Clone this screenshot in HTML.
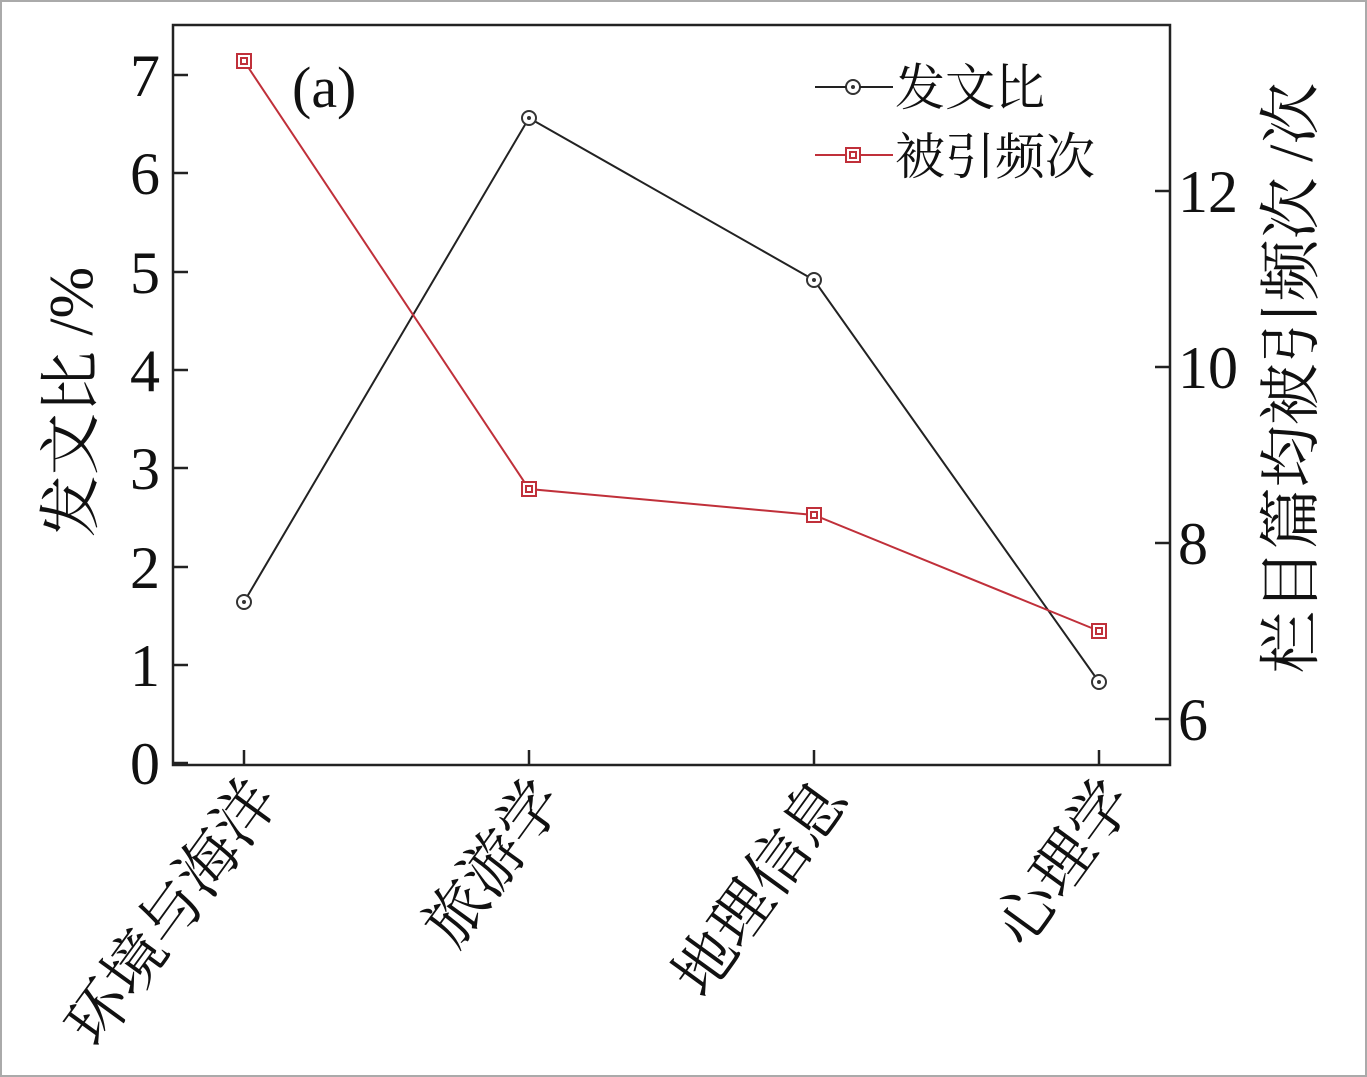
<!DOCTYPE html>
<html><head><meta charset="utf-8"><style>body{margin:0;background:#fff}svg{display:block}</style></head><body>
<svg width="1367" height="1077" xmlns="http://www.w3.org/2000/svg" font-family="Liberation Serif, Noto Serif CJK SC, serif">
<rect x="1" y="1" width="1365" height="1075" fill="#fff" stroke="#aaa" stroke-width="2"/>
<rect x="173" y="25" width="997" height="740" fill="none" stroke="#222" stroke-width="2.5"/>
<g stroke="#222" stroke-width="2.5">
<line x1="173" y1="763" x2="188" y2="763"/><line x1="173" y1="665" x2="188" y2="665"/><line x1="173" y1="567" x2="188" y2="567"/><line x1="173" y1="468" x2="188" y2="468"/><line x1="173" y1="370" x2="188" y2="370"/><line x1="173" y1="272" x2="188" y2="272"/><line x1="173" y1="173" x2="188" y2="173"/><line x1="173" y1="75" x2="188" y2="75"/>
<line x1="1170" y1="191" x2="1155" y2="191"/><line x1="1170" y1="367" x2="1155" y2="367"/><line x1="1170" y1="543" x2="1155" y2="543"/><line x1="1170" y1="719" x2="1155" y2="719"/>
<line x1="244" y1="765" x2="244" y2="750"/><line x1="529" y1="765" x2="529" y2="750"/><line x1="814" y1="765" x2="814" y2="750"/><line x1="1099" y1="765" x2="1099" y2="750"/>
</g>
<g font-size="60" fill="#111" text-anchor="end">
<text x="160" y="784">0</text><text x="160" y="686">1</text><text x="160" y="588">2</text><text x="160" y="489">3</text><text x="160" y="391">4</text><text x="160" y="293">5</text><text x="160" y="194">6</text><text x="160" y="96">7</text>
</g>
<g font-size="60" fill="#111">
<text x="1178" y="212">12</text><text x="1178" y="388">10</text><text x="1178" y="564">8</text><text x="1178" y="740">6</text>
</g>
<text x="292" y="107" font-size="58" fill="#111">(a)</text>
<polyline points="244,602 529,118 814,280 1099,682" fill="none" stroke="#222" stroke-width="2"/>
<polyline points="244,61 529,489 814,515 1099,631" fill="none" stroke="#c0303a" stroke-width="2"/>
<g fill="#fff" stroke="#333" stroke-width="2">
<circle cx="244" cy="602" r="7"/><circle cx="529" cy="118" r="7"/><circle cx="814" cy="280" r="7"/><circle cx="1099" cy="682" r="7"/><circle cx="853" cy="87" r="7"/>
</g>
<g fill="#333"><circle cx="244" cy="602" r="2"/><circle cx="529" cy="118" r="2"/><circle cx="814" cy="280" r="2"/><circle cx="1099" cy="682" r="2"/><circle cx="853" cy="87" r="2"/></g>
<g fill="#fff" stroke="#c0303a" stroke-width="2">
<rect x="237" y="54" width="14" height="14"/><rect x="522" y="482" width="14" height="14"/><rect x="807" y="508" width="14" height="14"/><rect x="1092" y="624" width="14" height="14"/><rect x="846" y="148" width="14" height="14"/>
<rect x="241" y="58" width="6" height="6"/><rect x="526" y="486" width="6" height="6"/><rect x="811" y="512" width="6" height="6"/><rect x="1096" y="628" width="6" height="6"/><rect x="850" y="152" width="6" height="6"/>
</g>
<line x1="815" y1="87" x2="846" y2="87" stroke="#222" stroke-width="2"/><line x1="860" y1="87" x2="893" y2="87" stroke="#222" stroke-width="2"/>
<line x1="815" y1="155" x2="846" y2="155" stroke="#c0303a" stroke-width="2"/><line x1="860" y1="155" x2="893" y2="155" stroke="#c0303a" stroke-width="2"/>
<g font-size="50" fill="#111" font-family="Noto Serif CJK SC, serif">
<text x="895" y="105">发文比</text><text x="895" y="174">被引频次</text>
</g>
<g font-size="62" fill="#111" font-family="Liberation Serif, Noto Serif CJK SC, serif" text-anchor="middle">
<text transform="translate(92,402) rotate(-90)">发文比 /%</text>
<text transform="translate(1312,378) rotate(-90)">栏目篇均被引频次 /次</text>
</g>
<g font-size="62" fill="#111" font-family="Noto Serif CJK SC, serif" text-anchor="end">
<text transform="translate(280,800) rotate(-54)">环境与海洋</text>
<text transform="translate(565,800) rotate(-54)">旅游学</text>
<text transform="translate(850,800) rotate(-54)">地理信息</text>
<text transform="translate(1135,800) rotate(-54)">心理学</text>
</g>
</svg>
</body></html>
